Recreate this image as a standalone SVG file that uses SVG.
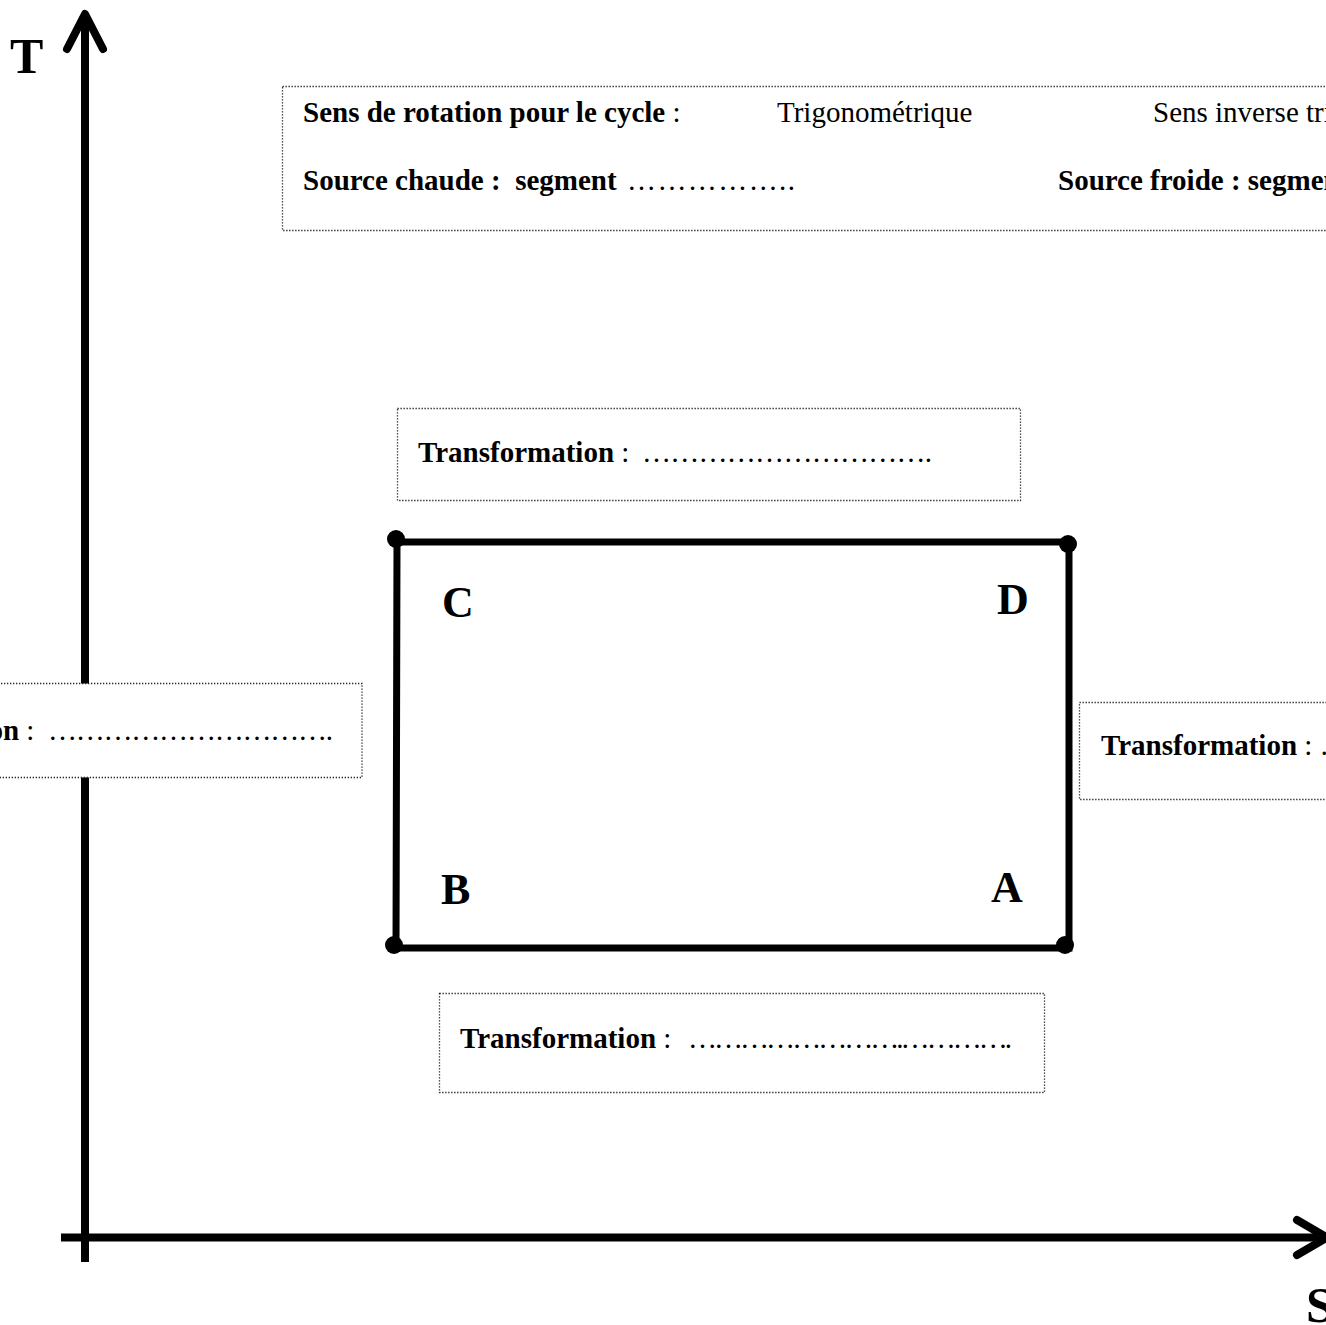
<svg xmlns="http://www.w3.org/2000/svg" width="1326" height="1325" viewBox="0 0 1326 1325">
<style>
.axis{stroke:#000;stroke-width:8;fill:none;stroke-linecap:round;stroke-linejoin:round}
.axisline{stroke:#000;stroke-width:8;fill:none}
.box{fill:#fff;stroke:#222;stroke-width:1.3;stroke-dasharray:1.3 1.7}
.cyc{stroke:#000;stroke-width:7;fill:none}
.dot{fill:#000}
text{font-family:"Liberation Serif","Times New Roman",serif;fill:#000}
.t{font-size:29px}
.b{font-weight:bold}
.big{font-size:50px;font-weight:bold}
.pt{font-size:44px;font-weight:bold}
</style>
<rect width="1326" height="1325" fill="#fff"/>
<g id="connectors">
  <line class="axisline" x1="85" y1="16" x2="85" y2="1262"/>
  <polyline class="axis" points="67,49 85,14 103,49"/>
  <line class="axisline" x1="61" y1="1237.5" x2="1324" y2="1237.5"/>
  <polyline class="axis" points="1297,1220 1327,1237.5 1297,1255"/>
</g>
<g id="label-T"><text class="big" x="10" y="73">T</text></g>
<g id="label-S"><text class="big" x="1306" y="1322">S</text></g>
<g id="info-box">
  <rect class="box" x="282.5" y="86.5" width="1060" height="144"/>
  <text class="t" x="303" y="122"><tspan class="b">Sens de rotation pour le cycle</tspan>&#160;:</text>
  <text class="t" x="777" y="122">Trigonométrique</text>
  <text class="t" x="1153" y="122">Sens inverse trigonométrique</text>
  <text class="t b" x="303" y="190">Source chaude :&#160; segment</text>
  <text class="t" x="627" y="190" textLength="168" lengthAdjust="spacing">……………..</text>
  <text class="t" x="1058" y="190"><tspan class="b">Source froide : segment</tspan> ……………..</text>
</g>
<g id="transfo-top">
  <rect class="box" x="397.5" y="408.5" width="623" height="92"/>
  <text class="t" x="418" y="462"><tspan class="b">Transformation</tspan> :</text>
  <text class="t" x="642" y="462" textLength="290" lengthAdjust="spacing">………………………….</text>
</g>
<g id="transfo-left">
  <rect class="box" x="-5" y="683.5" width="367" height="94"/>
  <text class="t" x="-177" y="740"><tspan class="b">Transformation</tspan> :</text>
  <text class="t" x="48" y="740" textLength="285" lengthAdjust="spacing">………………………….</text>
</g>
<g id="transfo-right">
  <rect class="box" x="1079.5" y="702.5" width="260" height="97"/>
  <text class="t" x="1101" y="755"><tspan class="b">Transformation</tspan> : …………………………</text>
</g>
<g id="transfo-bottom">
  <rect class="box" x="439.5" y="993.5" width="605" height="99"/>
  <text class="t" x="460" y="1048"><tspan class="b">Transformation</tspan> :</text>
  <text class="t" x="688" y="1048" textLength="324" lengthAdjust="spacing">…………………….………….</text>
</g>
<g id="cycle">
  <polygon class="cyc" points="397,542 1069,542 1069,948 396,948"/>
  <circle class="dot" cx="396" cy="539" r="9"/>
  <circle class="dot" cx="1068" cy="544" r="9"/>
  <circle class="dot" cx="394" cy="945" r="9"/>
  <circle class="dot" cx="1065" cy="945" r="9"/>
</g>
<g id="point-C"><text class="pt" x="442" y="617">C</text></g>
<g id="point-D"><text class="pt" x="997" y="614">D</text></g>
<g id="point-B"><text class="pt" x="441" y="904">B</text></g>
<g id="point-A"><text class="pt" x="991" y="902">A</text></g>
</svg>
